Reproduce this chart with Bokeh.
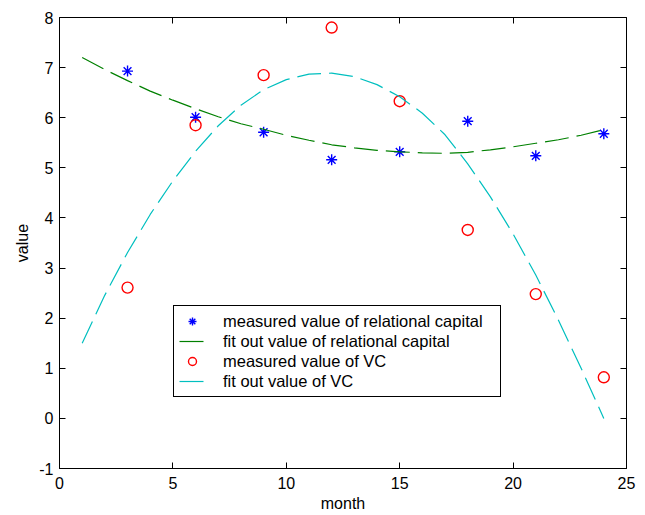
from bokeh.plotting import figure
from bokeh.models import Range1d, LinearAxis, FixedTicker, Legend, LegendItem
from bokeh.embed import file_html
from bokeh.resources import INLINE

# measured data
months = [3, 6, 9, 12, 15, 18, 21, 24]
relational_measured = [6.93, 6.01, 5.71, 5.16, 5.32, 5.93, 5.24, 5.68]
vc_measured = [2.61, 5.85, 6.85, 7.80, 6.33, 3.76, 2.48, 0.82]

# fitted curves
fit_months = list(range(1, 25))
relational_fit = [7.20, 6.96, 6.74, 6.53, 6.35, 6.18, 6.02, 5.88, 5.77, 5.65,
                  5.55, 5.46, 5.40, 5.35, 5.32, 5.30, 5.29, 5.31, 5.36, 5.42,
                  5.49, 5.56, 5.65, 5.76]
vc_fit = [1.50, 2.46, 3.31, 4.07, 4.74, 5.33, 5.84, 6.25, 6.56, 6.76,
          6.87, 6.89, 6.82, 6.66, 6.42, 6.09, 5.66, 5.08, 4.42, 3.68,
          2.86, 1.96, 1.00, 0.00]

x_ticks = [0, 5, 10, 15, 20, 25]
y_ticks = [-1, 0, 1, 2, 3, 4, 5, 6, 7, 8]
y_tick_labels = {t: str(t) for t in y_ticks}

FONT = "Liberation Sans"

p = figure(width=638, height=515, output_backend="svg", toolbar_location=None,
           x_range=Range1d(0, 25), y_range=Range1d(-1, 8),
           min_border_left=59, min_border_right=12, min_border_top=17, min_border_bottom=47,
           background_fill_color="white", border_fill_color="white")
p.outline_line_color = "black"
p.outline_line_width = 1
p.xgrid.visible = False
p.ygrid.visible = False

for ax, ticks in ((p.xaxis[0], x_ticks), (p.yaxis[0], y_ticks)):
    ax.ticker = FixedTicker(ticks=ticks)
    ax.major_tick_in = 6
    ax.major_tick_out = 0
    ax.minor_tick_line_color = None
    ax.axis_line_color = "black"
    ax.major_tick_line_color = "black"
    ax.major_label_text_font = FONT
    ax.major_label_text_font_size = "16px"
    ax.major_label_text_color = "black"
    ax.axis_label_text_font = FONT
    ax.axis_label_text_font_size = "16px"
    ax.axis_label_text_font_style = "normal"
    ax.axis_label_text_color = "black"

p.yaxis.major_label_overrides = y_tick_labels
p.xaxis.axis_label = "month"
p.yaxis.axis_label = "value"
p.xaxis.major_label_standoff = 8
p.xaxis.axis_label_standoff = 3
p.yaxis.major_label_standoff = 6
p.yaxis.axis_label_standoff = 5

# box ticks on top and right (labels not drawn)
for loc, ticks in (("right", y_ticks), ("above", x_ticks)):
    ax = LinearAxis(ticker=FixedTicker(ticks=ticks), major_tick_in=6, major_tick_out=0,
                    minor_tick_line_color=None, axis_line_color=None,
                    major_tick_line_color="black",
                    major_label_text_font_size="1px", major_label_text_color=None,
                    major_label_standoff=0)
    p.add_layout(ax, loc)

r_star = p.scatter(months, relational_measured, marker="asterisk", size=11,
                   line_color="blue", line_width=1.4)
r_gfit = p.line(fit_months, relational_fit, line_color="#008000", line_width=1.2,
                line_dash="24 8")
r_circ = p.scatter(months, vc_measured, marker="circle", size=11,
                   line_color="red", fill_color=None, line_width=1.4)
r_cfit = p.line(fit_months, vc_fit, line_color="#00BFBF", line_width=1.2,
                line_dash="24 8")

legend = Legend(items=[
    LegendItem(label="measured value of relational capital", renderers=[r_star]),
    LegendItem(label="fit out value of relational capital", renderers=[r_gfit]),
    LegendItem(label="measured value of VC", renderers=[r_circ]),
    LegendItem(label="fit out value of VC", renderers=[r_cfit]),
], location=(114, 71))
legend.label_text_font = FONT
legend.label_text_font_size = "16.5px"
legend.label_text_color = "black"
legend.border_line_color = "black"
legend.border_line_alpha = 1
legend.border_line_width = 1
legend.background_fill_color = "white"
legend.background_fill_alpha = 1
legend.padding = 5
legend.margin = 0
legend.spacing = 0
legend.glyph_width = 26
legend.glyph_height = 20
legend.label_height = 20
legend.label_standoff = 18
legend.label_width = 272
p.add_layout(legend, "center")

open("out.html", "w").write(file_html(p, INLINE))
